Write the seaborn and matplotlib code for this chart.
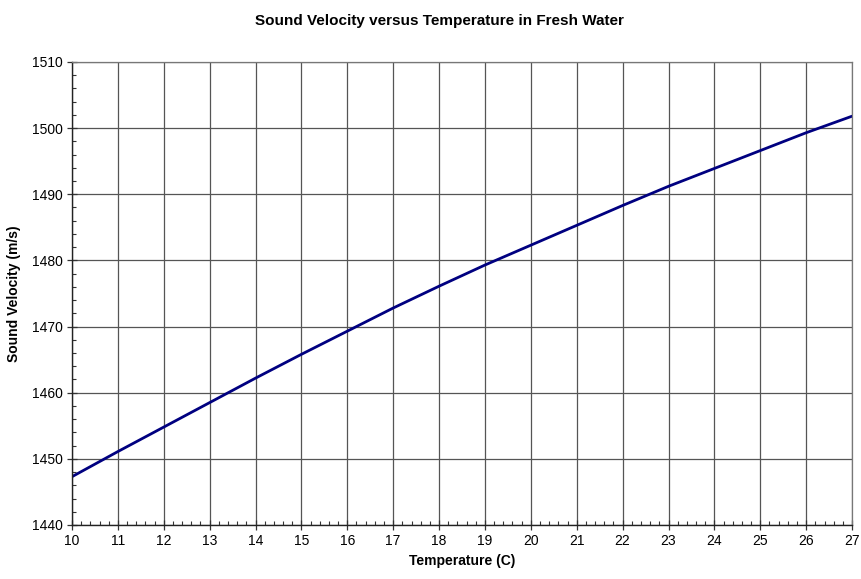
import matplotlib
matplotlib.use("Agg")
import matplotlib.pyplot as plt
import pandas as pd
import seaborn as sns
from matplotlib.ticker import MultipleLocator

# Data
temperature = [10, 11, 12, 13, 14, 15, 16, 17, 18, 19, 20, 21, 22, 23, 24, 25, 26, 27]
velocity = [1447.3, 1451.1, 1454.8, 1458.5, 1462.2, 1465.8, 1469.3, 1472.8, 1476.1,
            1479.3, 1482.3, 1485.3, 1488.3, 1491.2, 1493.9, 1496.6, 1499.3, 1501.8]

df = pd.DataFrame({'temp': temperature, 'vel': velocity})

sns.set_style("white", {'text.color': 'black', 'axes.labelcolor': 'black',
                        'xtick.color': 'black', 'ytick.color': 'black'})
plt.rcParams['font.family'] = ['Liberation Sans', 'DejaVu Sans']

fig = plt.figure(figsize=(8.61, 5.79), dpi=100)
ax = fig.add_axes([0.0836, 0.0933, 0.906, 0.7997])

sns.lineplot(data=df, x='temp', y='vel', ax=ax, color='#000080', linewidth=2)

ax.set_xlim(10, 27)
ax.set_ylim(1440, 1510)
ax.xaxis.set_major_locator(MultipleLocator(1))
ax.yaxis.set_major_locator(MultipleLocator(10))
ax.xaxis.set_minor_locator(MultipleLocator(0.2))
ax.yaxis.set_minor_locator(MultipleLocator(2))
ax.grid(True, which='major', color='#555555', linewidth=0.9)
ax.set_axisbelow(True)

ax.tick_params(axis='both', which='both', bottom=True, left=True, top=False, right=False)
ax.tick_params(axis='both', which='major', direction='inout', length=7, width=0.9,
               color='#333333', labelsize=10, pad=3, labelcolor='black')
ax.tick_params(axis='both', which='minor', direction='in', length=3, width=0.8,
               color='#333333')

for side in ['top', 'right']:
    ax.spines[side].set_color('#777777')
    ax.spines[side].set_linewidth(0.9)
for side in ['left', 'bottom']:
    ax.spines[side].set_color('#222222')
    ax.spines[side].set_linewidth(1.0)

ax.set_xlabel("Temperature (C)", fontsize=10, fontweight='bold', labelpad=4, color='black')
ax.set_ylabel("Sound Velocity (m/s)", fontsize=10, fontweight='bold', labelpad=8, color='black')
fig.suptitle("Sound Velocity versus Temperature in Fresh Water", fontsize=11,
             fontweight='bold', y=0.975, x=0.51, color='black')

fig.savefig('out.png', dpi=100)
